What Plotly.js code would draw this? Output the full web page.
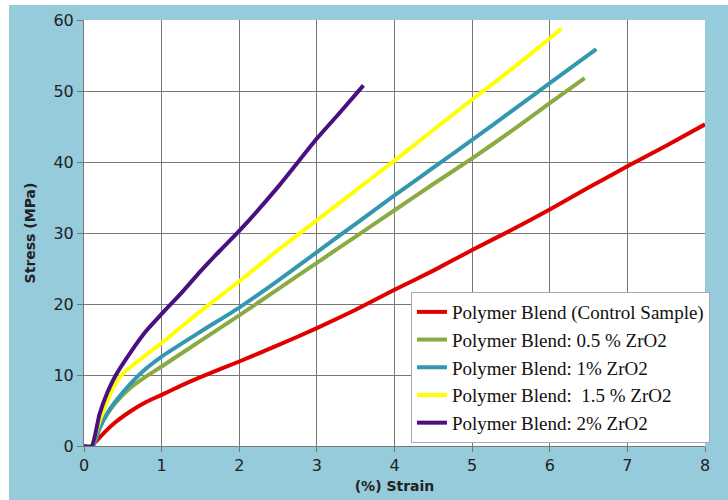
<!DOCTYPE html>
<html>
<head>
<meta charset="utf-8">
<script src="https://cdn.plot.ly/plotly-3.0.1.min.js"></script>
<style>
html,body{margin:0;padding:0;background:#ffffff;}
#chart{position:absolute;left:9px;top:5px;width:719px;height:495px;}
</style>
</head>
<body>
<div id="chart"></div>
<script>
// Series names
const seriesNames = [
  "Polymer Blend (Control Sample)",
  "Polymer Blend: 0.5 % ZrO2",
  "Polymer Blend: 1% ZrO2",
  "Polymer Blend: \u00a01.5 % ZrO2",
  "Polymer Blend: 2% ZrO2"
];

// Control sample
const controlStrain = [0.1, 0.2, 0.4, 0.6, 0.8, 1, 1.25, 1.5, 2, 2.5, 3, 3.5, 4, 4.5, 5, 5.5, 6, 6.5, 7, 7.5, 8];
const controlStress = [0, 1.2, 3.3, 4.9, 6.2, 7.2, 8.5, 9.7, 11.9, 14.2, 16.6, 19.2, 22, 24.7, 27.6, 30.4, 33.3, 36.4, 39.4, 42.3, 45.3];

// 0.5 % ZrO2
const zr05Strain = [0.12, 0.2, 0.3, 0.4, 0.6, 0.8, 1, 1.5, 2, 2.5, 3, 3.5, 4, 4.5, 5, 5.5, 6, 6.45];
const zr05Stress = [0, 2.5, 4.5, 6.0, 8.2, 9.8, 11.2, 14.8, 18.4, 22.1, 25.8, 29.5, 33.2, 36.9, 40.5, 44.3, 48.3, 51.8];

// 1 % ZrO2
const zr1Strain = [0.12, 0.2, 0.3, 0.4, 0.6, 0.8, 1, 1.5, 2, 2.5, 3, 3.5, 4, 4.5, 5, 5.5, 6, 6.6];
const zr1Stress = [0, 2.5, 4.6, 6.2, 8.8, 10.9, 12.6, 16.1, 19.5, 23.3, 27.3, 31.3, 35.3, 39.2, 43.1, 47.1, 51.1, 55.9];

// 1.5 % ZrO2
const zr15Strain = [0.1, 0.2, 0.3, 0.4, 0.5, 0.7, 1, 1.5, 2, 2.5, 3, 3.5, 4, 4.5, 5, 5.5, 6, 6.15];
const zr15Stress = [0, 3.5, 6.3, 8.7, 10.2, 12.0, 14.5, 19.0, 23.2, 27.6, 31.8, 36.0, 40.2, 44.5, 48.8, 53.0, 57.4, 58.8];

// 2 % ZrO2
const zr2Strain = [0, 0.1, 0.2, 0.3, 0.4, 0.6, 0.8, 1, 1.25, 1.5, 1.75, 2, 2.5, 3, 3.3, 3.6];
const zr2Stress = [0, 0, 4.5, 7.5, 9.8, 13.2, 16.2, 18.6, 21.5, 24.6, 27.5, 30.3, 36.5, 43.3, 47.0, 50.8];

const colors = ["#e00000", "#8aaa42", "#3497b0", "#ffff00", "#4a0f80"];

const xs = [controlStrain, zr05Strain, zr1Strain, zr15Strain, zr2Strain];
const ys = [controlStress, zr05Stress, zr1Stress, zr15Stress, zr2Stress];

const traces = xs.map((x, i) => ({
  x: x, y: ys[i], type: "scatter", mode: "lines", name: seriesNames[i],
  line: {color: colors[i], width: 4, shape: "spline", smoothing: 0.5}
}));

const tickFont = {family: "DejaVu Sans, sans-serif", size: 16, color: "#222222"};

const layout = {
  width: 719, height: 495,
  paper_bgcolor: "#95cbdb",
  plot_bgcolor: "#ffffff",
  margin: {l: 75, r: 23, t: 15, b: 54},
  showlegend: true,
  legend: {
    x: 1.008, y: 0.007, xanchor: "right", yanchor: "bottom",
    bgcolor: "#ffffff", bordercolor: "#aaaaaa", borderwidth: 1,
    font: {family: "Liberation Serif, Times New Roman, serif", size: 19, color: "#111111"},
    tracegroupgap: 0
  },
  xaxis: {
    range: [0, 8], dtick: 1, tick0: 0,
    showgrid: true, gridcolor: "#777777", gridwidth: 1,
    showline: true, linecolor: "#777777", linewidth: 1,
    ticks: "outside", ticklen: 5, tickcolor: "#777777",
    zeroline: false, tickfont: tickFont,
    title: {text: "<b>(%) Strain</b>", font: {family: "DejaVu Sans, sans-serif", size: 14, color: "#222222"}, standoff: 6}
  },
  yaxis: {
    range: [0, 60], dtick: 10, tick0: 0,
    showgrid: true, gridcolor: "#777777", gridwidth: 1,
    showline: true, linecolor: "#777777", linewidth: 1,
    ticks: "outside", ticklen: 6, tickcolor: "#777777",
    zeroline: false, tickfont: tickFont,
    title: {text: "<b>Stress (MPa)</b>", font: {family: "DejaVu Sans, sans-serif", size: 14, color: "#222222"}, standoff: 14}
  }
};

Plotly.newPlot("chart", traces, layout, {displayModeBar: false, staticPlot: true});
</script>
</body>
</html>
